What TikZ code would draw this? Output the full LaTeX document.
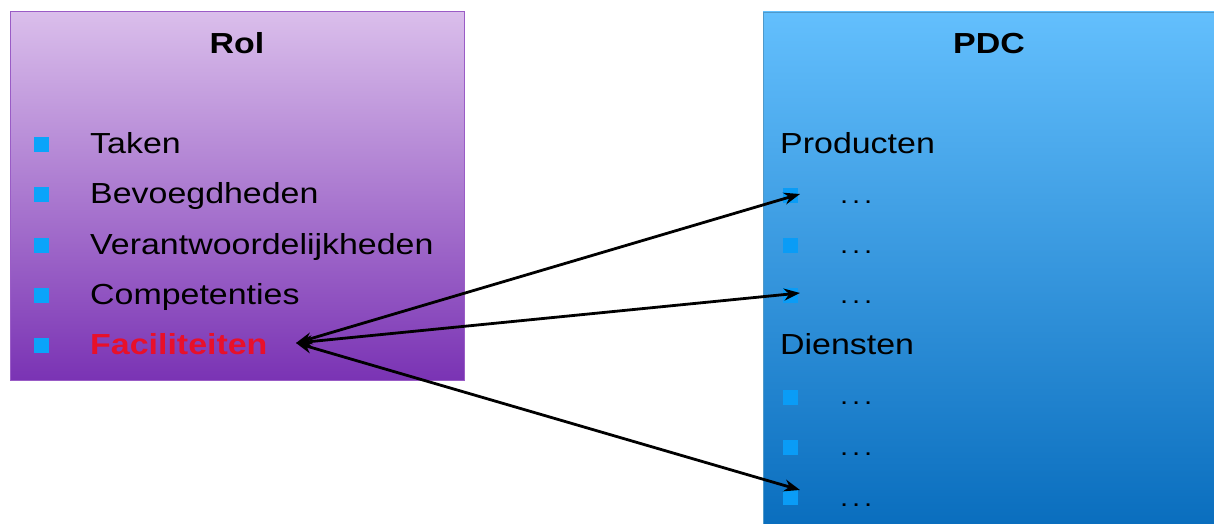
\documentclass[tikz,border=0pt]{standalone}
\usepackage{fontspec}
\setmainfont[FakeStretch=1.17]{Liberation Sans}
\usetikzlibrary{arrows.meta}
\definecolor{roltop}{HTML}{DABEEB}
\definecolor{rolbot}{HTML}{7A33B4}
\definecolor{rolborder}{HTML}{9A5CC6}
\definecolor{pdctop}{HTML}{63BFFD}
\definecolor{pdcbot}{HTML}{0A6EBE}
\definecolor{bulletL}{HTML}{0AA4FA}
\definecolor{bulletR}{HTML}{0A9CF6}
\definecolor{facred}{HTML}{E8102A}
\newcommand{\mydots}{.\kern3.8pt.\kern3.8pt.}
\tikzset{
  x=1pt, y=-1pt,
  itemtxt/.style={anchor=base west, inner sep=0pt, font=\fontsize{29}{34}\selectfont},
  titletxt/.style={anchor=base, inner sep=0pt, font=\fontsize{29}{34}\selectfont\bfseries},
  dotstxt/.style={anchor=base west, inner sep=0pt, font=\fontsize{25}{28}\selectfont},
  sqL/.style={fill=bulletL, minimum width=15pt, minimum height=15pt, inner sep=0pt},
  sqR/.style={fill=bulletR, minimum width=15pt, minimum height=15pt, inner sep=0pt},
  link/.style={line width=2.8pt, {Stealth[length=16pt,width=12pt]}-{Stealth[length=16pt,width=12pt]}},
}
\begin{document}
\begin{tikzpicture}
\useasboundingbox (0,0) rectangle (1214,524);
% boxes
\shade[top color=roltop, bottom color=rolbot] (10,12) rectangle (464,380);
\draw[rolborder, line width=1pt] (10,12) rectangle (464,380);
\shade[top color=pdctop, bottom color=pdcbot] (763,12) rectangle (1214,524);
\draw[pdctop!80!black, line width=0.8pt] (763,524) -- (763,12) -- (1214,12);
% Rol
\node[titletxt] (rol) at (237,54) {Rol};
\node[sqL] (b1) at (41,144) {};
\node[sqL] (b2) at (41,194) {};
\node[sqL] (b3) at (41,245) {};
\node[sqL] (b4) at (41,295) {};
\node[sqL] (b5) at (41,345) {};
\node[itemtxt] (t1) at (90,153) {Taken};
\node[itemtxt] (t2) at (90,203) {Bevoegdheden};
\node[itemtxt] (t3) at (90,254) {Verantwoordelijkheden};
\node[itemtxt] (t4) at (90,304) {Competenties};
\node[itemtxt, text=facred, font=\fontsize{29}{34}\selectfont\bfseries] (t5) at (90,354) {Faciliteiten};
% PDC
\node[titletxt] (pdc) at (989,54) {PDC};
\node[itemtxt] (prod) at (780,153) {Producten};
\node[sqR] (r1) at (790,195) {};
\node[sqR] (r2) at (790,245) {};
\node[sqR] (r3) at (790,295) {};
\node[dotstxt] (d1) at (840,203) {\mydots};
\node[dotstxt] (d2) at (840,253) {\mydots};
\node[dotstxt] (d3) at (840,303) {\mydots};
\node[itemtxt] (dien) at (780,354) {Diensten};
\node[sqR] (r4) at (790,397) {};
\node[sqR] (r5) at (790,447) {};
\node[sqR] (r6) at (790,497) {};
\node[dotstxt] (d4) at (840,404) {\mydots};
\node[dotstxt] (d5) at (840,455) {\mydots};
\node[dotstxt] (d6) at (840,506) {\mydots};
% arrows
\coordinate (fa) at (296,343);
\coordinate (e1) at (800,194);
\coordinate (e3) at (800,293);
\coordinate (e6) at (800,490);
\draw[link] (fa) -- (e1);
\draw[link] (fa) -- (e3);
\draw[link] (fa) -- (e6);
\end{tikzpicture}
\end{document}
